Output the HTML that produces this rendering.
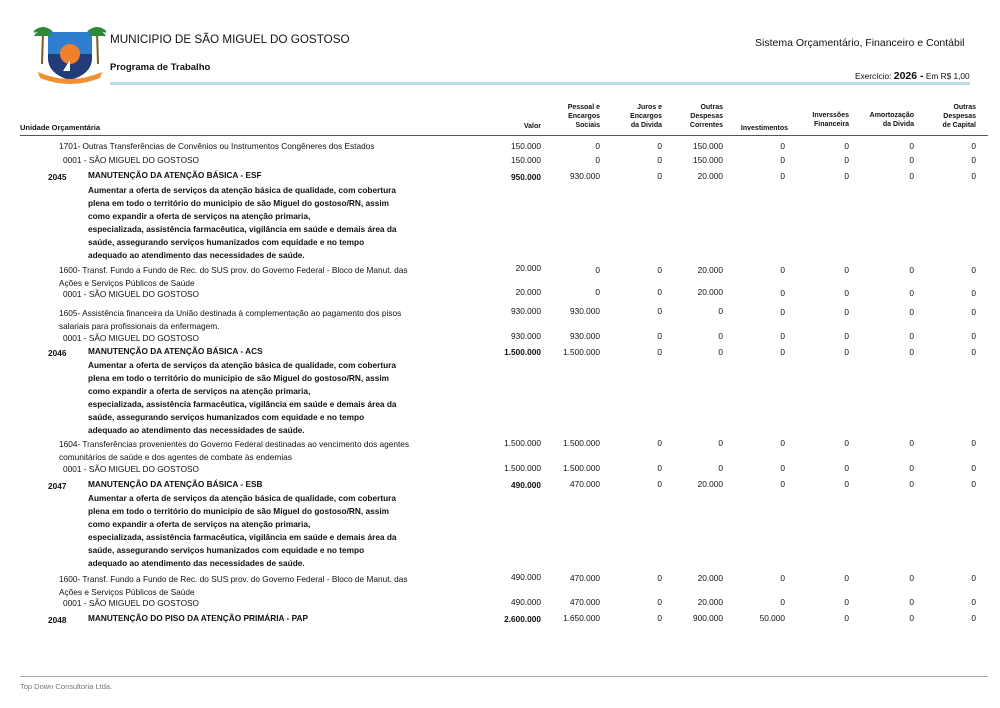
<!DOCTYPE html>
<html><head><meta charset="utf-8"><style>
body{margin:0;width:1000px;height:708px;background:#fff;position:relative;overflow:hidden;font-family:"Liberation Sans",Arial,sans-serif;color:#111}
.t{position:absolute;white-space:nowrap;font-size:8.3px;line-height:10px}
.b{font-weight:bold}
.v{position:absolute;width:70px;text-align:right;font-size:8.3px;line-height:10px}
.h{position:absolute;width:70px;text-align:right;font-size:7px;line-height:9px;font-weight:bold}
</style></head><body>
<svg style="position:absolute;left:34px;top:24px" width="72" height="60" viewBox="0 0 72 60">
<path d="M14 8 L58 8 L58 34 Q58 50 36 56 Q14 50 14 34Z" fill="#2f7fd0"/>
<path d="M14 30 L58 30 L58 34 Q58 50 36 56 Q14 50 14 34Z" fill="#243b7a"/>
<circle cx="36" cy="30" r="10" fill="#f08030"/>
<path d="M36 36 L36 47 L29 47Z" fill="#fff"/>
<path d="M4 48 Q36 62 68 48 L66 54 Q36 66 6 54Z" fill="#f09030"/>
<path d="M8 40 L9 8" stroke="#7a5a2a" stroke-width="2"/><path d="M64 40 L63 8" stroke="#7a5a2a" stroke-width="2"/>
<path d="M0 8 Q9 0 18 8 Q9 4 0 8Z M1 12 Q9 2 17 12" fill="#2a8a3a" stroke="#2a8a3a" stroke-width="2"/>
<path d="M54 8 Q63 0 72 8 Q63 4 54 8Z M55 12 Q63 2 71 12" fill="#2a8a3a" stroke="#2a8a3a" stroke-width="2"/>
</svg>
<div class="t" style="left:110px;top:32px;font-size:11.7px;line-height:16px">MUNICIPIO DE SÃO MIGUEL DO GOSTOSO</div>
<div class="t b" style="left:110px;top:62px;font-size:9.5px;line-height:12px">Programa de Trabalho</div>
<div class="t" style="left:755px;top:37px;font-size:10.5px;line-height:13px">Sistema Orçamentário, Financeiro e Contábil</div>
<div class="t" style="left:855px;top:70px;font-size:8.3px;line-height:12px">Exercício: <b style="font-size:10.5px">2026 -</b> Em R$ 1,00</div>
<div style="position:absolute;left:110px;top:82px;width:860px;height:3px;background:#b9dde3"></div>

<div class="t b" style="left:20px;top:123px;font-size:7.5px">Unidade Orçamentária</div>
<div class="h" style="left:471px;top:122px">Valor</div>
<div class="h" style="left:530px;top:103px">Pessoal e<br>Encargos<br>Sociais</div>
<div class="h" style="left:592px;top:103px">Juros e<br>Encargos<br>da Divida</div>
<div class="h" style="left:653px;top:103px">Outras<br>Despesas<br>Correntes</div>
<div class="h" style="left:718px;top:124px">Investimentos</div>
<div class="h" style="left:779px;top:111px">Inverssões<br>Financeira</div>
<div class="h" style="left:844px;top:111px">Amortozação<br>da Divida</div>
<div class="h" style="left:906px;top:103px">Outras<br>Despesas<br>de Capital</div>
<div style="position:absolute;left:20px;top:135px;width:968px;height:1px;background:#555"></div>

<div class="t" style="left:59px;top:141px">1701- Outras Transferências de Convênios ou Instrumentos Congêneres dos Estados</div>
<div class="t" style="left:63px;top:155px">0001 - SÃO MIGUEL DO GOSTOSO</div>
<div class="t b" style="left:48px;top:172px">2045</div>
<div class="t b" style="left:88px;top:170px">MANUTENÇÃO DA ATENÇÃO BÁSICA - ESF</div>
<div class="t b" style="left:88px;top:184px;line-height:13px">Aumentar a oferta de serviços da atenção básica de qualidade, com cobertura<br>plena em todo o território do municipio de são Miguel do gostoso/RN, assim<br>como expandir a oferta de serviços na atenção primaria,<br>especializada, assistência farmacêutica, vigilância em saúde e demais área da<br>saúde, assegurando serviços humanizados com equidade e no tempo<br>adequado ao atendimento das necessidades de saúde.</div>
<div class="t" style="left:59px;top:264px;line-height:13px">1600- Transf. Fundo a Fundo de Rec. do SUS prov. do Governo Federal - Bloco de Manut. das<br>Ações e Serviços Públicos de Saúde</div>
<div class="t" style="left:63px;top:289px">0001 - SÃO MIGUEL DO GOSTOSO</div>
<div class="t" style="left:59px;top:307px;line-height:13px">1605- Assistência financeira da União destinada à complementação ao pagamento dos pisos<br>salariais para profissionais da enfermagem.</div>
<div class="t" style="left:63px;top:333px">0001 - SÃO MIGUEL DO GOSTOSO</div>
<div class="t b" style="left:48px;top:348px">2046</div>
<div class="t b" style="left:88px;top:346px">MANUTENÇÃO DA ATENÇÃO BÁSICA - ACS</div>
<div class="t b" style="left:88px;top:359px;line-height:13px">Aumentar a oferta de serviços da atenção básica de qualidade, com cobertura<br>plena em todo o território do municipio de são Miguel do gostoso/RN, assim<br>como expandir a oferta de serviços na atenção primaria,<br>especializada, assistência farmacêutica, vigilância em saúde e demais área da<br>saúde, assegurando serviços humanizados com equidade e no tempo<br>adequado ao atendimento das necessidades de saúde.</div>
<div class="t" style="left:59px;top:438px;line-height:13px">1604- Transferências provenientes do Governo Federal destinadas ao vencimento dos agentes<br>comunitários de saúde e dos agentes de combate às endemias</div>
<div class="t" style="left:63px;top:464px">0001 - SÃO MIGUEL DO GOSTOSO</div>
<div class="t b" style="left:48px;top:481px">2047</div>
<div class="t b" style="left:88px;top:479px">MANUTENÇÃO DA ATENÇÃO BÁSICA - ESB</div>
<div class="t b" style="left:88px;top:492px;line-height:13px">Aumentar a oferta de serviços da atenção básica de qualidade, com cobertura<br>plena em todo o território do municipio de são Miguel do gostoso/RN, assim<br>como expandir a oferta de serviços na atenção primaria,<br>especializada, assistência farmacêutica, vigilância em saúde e demais área da<br>saúde, assegurando serviços humanizados com equidade e no tempo<br>adequado ao atendimento das necessidades de saúde.</div>
<div class="t" style="left:59px;top:573px;line-height:13px">1600- Transf. Fundo a Fundo de Rec. do SUS prov. do Governo Federal - Bloco de Manut. das<br>Ações e Serviços Públicos de Saúde</div>
<div class="t" style="left:63px;top:598px">0001 - SÃO MIGUEL DO GOSTOSO</div>
<div class="t b" style="left:48px;top:615px">2048</div>
<div class="t b" style="left:88px;top:613px">MANUTENÇÃO DO PISO DA ATENÇÃO PRIMÁRIA - PAP</div>

<div class="v" style="left:471px;top:141px">150.000</div><div class="v" style="left:530px;top:141px">0</div><div class="v" style="left:592px;top:141px">0</div><div class="v" style="left:653px;top:141px">150.000</div><div class="v" style="left:715px;top:141px">0</div><div class="v" style="left:779px;top:141px">0</div><div class="v" style="left:844px;top:141px">0</div><div class="v" style="left:906px;top:141px">0</div>
<div class="v" style="left:471px;top:155px">150.000</div><div class="v" style="left:530px;top:155px">0</div><div class="v" style="left:592px;top:155px">0</div><div class="v" style="left:653px;top:155px">150.000</div><div class="v" style="left:715px;top:155px">0</div><div class="v" style="left:779px;top:155px">0</div><div class="v" style="left:844px;top:155px">0</div><div class="v" style="left:906px;top:155px">0</div>
<div class="v b" style="left:471px;top:172px">950.000</div><div class="v" style="left:530px;top:171px">930.000</div><div class="v" style="left:592px;top:171px">0</div><div class="v" style="left:653px;top:171px">20.000</div><div class="v" style="left:715px;top:171px">0</div><div class="v" style="left:779px;top:171px">0</div><div class="v" style="left:844px;top:171px">0</div><div class="v" style="left:906px;top:171px">0</div>
<div class="v" style="left:471px;top:263px">20.000</div><div class="v" style="left:530px;top:265px">0</div><div class="v" style="left:592px;top:265px">0</div><div class="v" style="left:653px;top:265px">20.000</div><div class="v" style="left:715px;top:265px">0</div><div class="v" style="left:779px;top:265px">0</div><div class="v" style="left:844px;top:265px">0</div><div class="v" style="left:906px;top:265px">0</div>
<div class="v" style="left:471px;top:287px">20.000</div><div class="v" style="left:530px;top:287px">0</div><div class="v" style="left:592px;top:287px">0</div><div class="v" style="left:653px;top:287px">20.000</div><div class="v" style="left:715px;top:288px">0</div><div class="v" style="left:779px;top:288px">0</div><div class="v" style="left:844px;top:288px">0</div><div class="v" style="left:906px;top:288px">0</div>
<div class="v" style="left:471px;top:306px">930.000</div><div class="v" style="left:530px;top:306px">930.000</div><div class="v" style="left:592px;top:306px">0</div><div class="v" style="left:653px;top:306px">0</div><div class="v" style="left:715px;top:307px">0</div><div class="v" style="left:779px;top:307px">0</div><div class="v" style="left:844px;top:307px">0</div><div class="v" style="left:906px;top:307px">0</div>
<div class="v" style="left:471px;top:331px">930.000</div><div class="v" style="left:530px;top:331px">930.000</div><div class="v" style="left:592px;top:331px">0</div><div class="v" style="left:653px;top:331px">0</div><div class="v" style="left:715px;top:331px">0</div><div class="v" style="left:779px;top:331px">0</div><div class="v" style="left:844px;top:331px">0</div><div class="v" style="left:906px;top:331px">0</div>
<div class="v b" style="left:471px;top:347px">1.500.000</div><div class="v" style="left:530px;top:347px">1.500.000</div><div class="v" style="left:592px;top:347px">0</div><div class="v" style="left:653px;top:347px">0</div><div class="v" style="left:715px;top:347px">0</div><div class="v" style="left:779px;top:347px">0</div><div class="v" style="left:844px;top:347px">0</div><div class="v" style="left:906px;top:347px">0</div>
<div class="v" style="left:471px;top:438px">1.500.000</div><div class="v" style="left:530px;top:438px">1.500.000</div><div class="v" style="left:592px;top:438px">0</div><div class="v" style="left:653px;top:438px">0</div><div class="v" style="left:715px;top:438px">0</div><div class="v" style="left:779px;top:438px">0</div><div class="v" style="left:844px;top:438px">0</div><div class="v" style="left:906px;top:438px">0</div>
<div class="v" style="left:471px;top:463px">1.500.000</div><div class="v" style="left:530px;top:463px">1.500.000</div><div class="v" style="left:592px;top:463px">0</div><div class="v" style="left:653px;top:463px">0</div><div class="v" style="left:715px;top:463px">0</div><div class="v" style="left:779px;top:463px">0</div><div class="v" style="left:844px;top:463px">0</div><div class="v" style="left:906px;top:463px">0</div>
<div class="v b" style="left:471px;top:480px">490.000</div><div class="v" style="left:530px;top:479px">470.000</div><div class="v" style="left:592px;top:479px">0</div><div class="v" style="left:653px;top:479px">20.000</div><div class="v" style="left:715px;top:479px">0</div><div class="v" style="left:779px;top:479px">0</div><div class="v" style="left:844px;top:479px">0</div><div class="v" style="left:906px;top:479px">0</div>
<div class="v" style="left:471px;top:572px">490.000</div><div class="v" style="left:530px;top:573px">470.000</div><div class="v" style="left:592px;top:573px">0</div><div class="v" style="left:653px;top:573px">20.000</div><div class="v" style="left:715px;top:573px">0</div><div class="v" style="left:779px;top:573px">0</div><div class="v" style="left:844px;top:573px">0</div><div class="v" style="left:906px;top:573px">0</div>
<div class="v" style="left:471px;top:597px">490.000</div><div class="v" style="left:530px;top:597px">470.000</div><div class="v" style="left:592px;top:597px">0</div><div class="v" style="left:653px;top:597px">20.000</div><div class="v" style="left:715px;top:597px">0</div><div class="v" style="left:779px;top:597px">0</div><div class="v" style="left:844px;top:597px">0</div><div class="v" style="left:906px;top:597px">0</div>
<div class="v b" style="left:471px;top:614px">2.600.000</div><div class="v" style="left:530px;top:613px">1.650.000</div><div class="v" style="left:592px;top:613px">0</div><div class="v" style="left:653px;top:613px">900.000</div><div class="v" style="left:715px;top:613px">50.000</div><div class="v" style="left:779px;top:613px">0</div><div class="v" style="left:844px;top:613px">0</div><div class="v" style="left:906px;top:613px">0</div>

<div style="position:absolute;left:20px;top:676px;width:968px;height:1px;background:#aaa"></div>
<div class="t" style="left:20px;top:682px;font-size:7.5px;color:#777">Top Down Consultoria Ltda.</div>
</body></html>
